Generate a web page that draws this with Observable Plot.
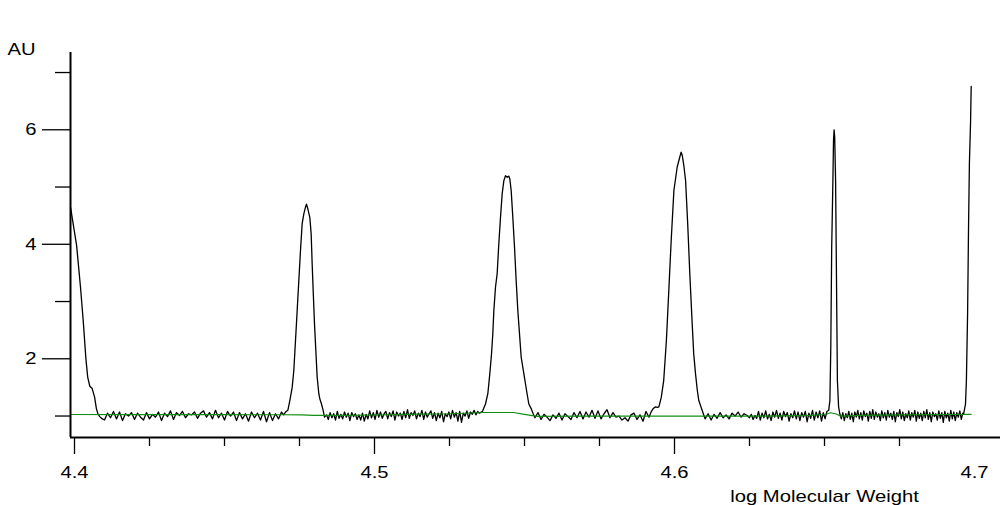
<!DOCTYPE html>
<html><head><meta charset="utf-8">
<script src="https://cdn.jsdelivr.net/npm/d3@7"></script>
<script src="https://cdn.jsdelivr.net/npm/@observablehq/plot@0.6"></script>
<style>body{margin:0;background:#fff}</style>
</head><body><div id="chart"></div>
<script>
// ---- tick labels / axis text ----
const xMajorTicks = [4.4, 4.5, 4.6];
const xLabelOnlyTicks = [4.7];
const xMinorTicks = [4.425, 4.45, 4.475, 4.525, 4.55, 4.575, 4.625, 4.65, 4.675];
const yMajorTicks = [2, 4, 6];
const yMinorTicks = [1, 3, 5, 7];
const xTitle = "log Molecular Weight";
const yTitle = "AU";

// ---- black trace: [log MW, AU] ----
const peak1 = [[4.39867,4.65],[4.4007,3.98],[4.4020,3.25],[4.4029,2.67],[4.4038,2.0],[4.4044,1.68],[4.4051,1.52],[4.4059,1.48],[4.4067,1.33],[4.4073,1.13],[4.4078,1.04],[4.4084,0.99]];
const noiseA = [[4.409,0.96],[4.410,0.93],[4.411,1.05],[4.412,0.97],[4.413,1.08],[4.414,0.95],[4.415,1.07],[4.416,0.92],[4.417,1.04],[4.418,1.00],[4.419,1.06],[4.420,0.94],[4.421,1.05],[4.422,0.98],[4.423,0.93],[4.424,1.06],[4.425,0.95],[4.426,1.03],[4.427,0.98],[4.428,1.07],[4.429,0.92],[4.430,1.05],[4.431,0.99],[4.432,1.09],[4.433,0.94],[4.434,1.06],[4.435,1.01],[4.436,1.08],[4.437,0.97],[4.438,1.04],[4.439,1.02],[4.440,1.07],[4.441,0.96],[4.442,1.05],[4.443,1.09],[4.444,0.98],[4.445,1.06],[4.446,0.95],[4.447,1.10],[4.448,0.97],[4.449,1.05],[4.450,0.93],[4.451,1.08],[4.452,1.00],[4.453,1.07],[4.454,0.92],[4.455,1.06],[4.456,0.95],[4.457,1.04],[4.458,0.91],[4.459,1.07],[4.460,0.97],[4.461,1.05],[4.462,0.93],[4.463,1.08],[4.464,0.90],[4.465,1.06],[4.466,0.92],[4.467,1.04],[4.468,0.95],[4.469,1.07],[4.4697,1.02]];
const peak2 = [[4.47033,1.07],[4.47111,1.10],[4.47178,1.27],[4.47256,1.50],[4.47311,1.80],[4.47367,2.32],[4.47422,2.84],[4.47478,3.37],[4.47533,3.89],[4.47589,4.36],[4.47644,4.53],[4.47700,4.65],[4.47733,4.70],[4.47778,4.62],[4.47844,4.47],[4.47889,4.18],[4.47922,3.66],[4.47956,3.19],[4.48000,2.61],[4.48044,2.15],[4.48089,1.68],[4.48144,1.39],[4.48178,1.30],[4.48233,1.21],[4.48289,1.10],[4.48333,0.98]];
const noiseB = [[4.4840,1.02],[4.4846,0.94],[4.4852,1.06],[4.4858,0.97],[4.4864,1.04],[4.4870,0.93],[4.4876,1.08],[4.4882,0.96],[4.4888,1.03],[4.4894,0.95],[4.4900,1.07],[4.4906,0.98],[4.4912,1.05],[4.4918,0.92],[4.4924,1.06],[4.4930,0.99],[4.4936,1.04],[4.4942,0.94],[4.4948,1.02],[4.4954,0.93],[4.4960,1.05],[4.4966,0.91],[4.4972,1.03],[4.4978,0.95],[4.4984,1.09],[4.4990,0.97],[4.4996,1.06],[4.5002,0.94],[4.5008,1.10],[4.5014,0.98],[4.5020,1.07],[4.5026,0.96],[4.5032,1.04],[4.5038,1.08],[4.5044,0.95],[4.5050,1.06],[4.5056,0.99],[4.5062,1.09],[4.5068,0.93],[4.5074,1.07],[4.5080,1.00],[4.5086,1.05],[4.5092,0.94],[4.5098,1.08],[4.5104,0.97],[4.5110,1.11],[4.5116,0.96],[4.5122,1.06],[4.5128,1.01],[4.5134,1.09],[4.5140,0.95],[4.5146,1.05],[4.5152,0.99],[4.5158,1.10],[4.5164,0.94],[4.5170,1.07],[4.5176,0.98],[4.5182,1.04],[4.5188,1.09],[4.5194,0.96],[4.5200,1.06],[4.5206,0.92],[4.5212,1.05],[4.5218,0.97],[4.5224,1.08],[4.5230,0.90],[4.5236,1.04],[4.5242,0.99],[4.5248,1.07],[4.5254,0.95],[4.5260,1.10],[4.5266,0.98],[4.5272,1.06],[4.5278,0.91],[4.5284,1.08],[4.5290,0.89],[4.5296,1.05],[4.5302,1.00],[4.5308,1.09],[4.5314,0.96],[4.5320,1.07],[4.5326,1.03],[4.5332,1.10],[4.5338,1.02],[4.5344,1.08],[4.5350,1.05],[4.5356,1.07]];
const peak3 = [[4.5359,1.07],[4.5370,1.21],[4.53778,1.39],[4.53844,1.74],[4.5390,2.08],[4.53944,2.44],[4.53978,2.84],[4.54033,3.25],[4.54089,3.49],[4.54144,4.01],[4.5420,4.47],[4.54256,4.88],[4.54311,5.11],[4.54367,5.20],[4.54422,5.17],[4.54478,5.19],[4.54511,5.14],[4.54556,4.94],[4.54611,4.47],[4.54667,3.95],[4.54722,3.37],[4.54778,2.84],[4.54833,2.44],[4.54889,2.03],[4.54978,1.74],[4.55067,1.45],[4.55144,1.21],[4.55222,1.13],[4.55289,1.04]];
const noiseC = [[4.5535,0.97],[4.5545,1.06],[4.5555,0.94],[4.5565,1.03],[4.5575,0.98],[4.5585,0.92],[4.5595,1.02],[4.5605,0.96],[4.5615,1.05],[4.5625,0.93],[4.5635,1.04],[4.5645,0.99],[4.5655,0.94],[4.5665,1.06],[4.5675,0.97],[4.5685,1.08],[4.5695,0.95],[4.5705,1.07],[4.5715,0.98],[4.5725,1.10],[4.5735,0.96],[4.5745,1.09],[4.5755,0.95],[4.5765,1.04],[4.5775,1.11],[4.5785,0.97],[4.5795,1.06],[4.5805,0.98],[4.5815,1.00],[4.5825,0.93],[4.5835,0.97],[4.5845,0.91],[4.5855,1.02],[4.5865,1.05],[4.5875,0.94],[4.5885,1.02],[4.5895,0.91],[4.5905,1.08]];
const peak4 = [[4.5915,0.98],[4.5922,1.07],[4.5929,1.13],[4.5937,1.16],[4.5943,1.15],[4.5948,1.16],[4.5956,1.33],[4.5964,1.62],[4.5973,2.32],[4.5981,3.19],[4.5989,4.07],[4.5998,4.94],[4.6009,5.35],[4.6016,5.49],[4.6022,5.61],[4.6026,5.55],[4.6031,5.38],[4.6037,5.11],[4.6044,4.36],[4.6051,3.49],[4.6059,2.61],[4.6064,2.09],[4.6070,1.74],[4.6076,1.45],[4.6081,1.27],[4.6087,1.18],[4.6096,1.04]];
const noiseE = [[4.6102,0.95],[4.6112,1.04],[4.6122,0.93],[4.6132,1.03],[4.6142,0.96],[4.6152,1.06],[4.6162,0.97],[4.6172,1.02],[4.6182,0.95],[4.6192,1.05],[4.6202,1.00],[4.6212,1.07],[4.6222,0.98],[4.6232,1.04],[4.6242,1.01],[4.6250,0.97],[4.6256,1.03],[4.6262,0.94],[4.6268,1.01],[4.6274,0.96],[4.6280,1.08],[4.6286,0.93],[4.6292,1.05],[4.6298,0.97],[4.6304,1.09],[4.6310,0.95],[4.6316,1.03],[4.6322,0.92],[4.6328,1.07],[4.6334,0.98],[4.6340,1.10],[4.6346,0.96],[4.6352,1.05],[4.6358,0.93],[4.6364,1.08],[4.6370,0.99],[4.6376,1.06],[4.6382,0.91],[4.6388,1.04],[4.6394,0.97],[4.6400,1.09],[4.6406,0.95],[4.6412,1.07],[4.6418,0.92],[4.6424,1.06],[4.6430,0.98],[4.6436,1.08],[4.6442,0.90],[4.6448,1.05],[4.6454,0.96],[4.6460,1.10],[4.6466,0.93],[4.6472,1.07],[4.6478,0.97],[4.6484,1.09],[4.6490,0.91],[4.6496,1.06],[4.6502,0.95],[4.6508,1.08]];
const peak5 = [[4.6514,1.10],[4.6518,1.27],[4.6521,2.20],[4.6524,3.95],[4.6528,5.11],[4.6530,5.81],[4.6532,6.00],[4.6534,5.87],[4.6537,5.11],[4.6539,3.95],[4.6541,2.79],[4.6543,1.62],[4.6547,1.16],[4.6551,1.04]];
const noiseF = [[4.6556,0.95],[4.6561,1.06],[4.6566,0.92],[4.6571,1.04],[4.6576,0.97],[4.6581,1.08],[4.6586,0.94],[4.6591,1.05],[4.6596,0.90],[4.6601,1.07],[4.6606,0.98],[4.6611,1.10],[4.6616,0.95],[4.6621,1.06],[4.6626,0.93],[4.6631,1.09],[4.6636,0.99],[4.6641,1.05],[4.6646,0.91],[4.6651,1.08],[4.6656,0.96],[4.6661,1.11],[4.6666,0.94],[4.6671,1.07],[4.6676,0.98],[4.6681,1.04],[4.6686,0.92],[4.6691,1.09],[4.6696,0.97],[4.6701,1.06],[4.6706,0.93],[4.6711,1.10],[4.6716,0.98],[4.6721,1.05],[4.6726,0.94],[4.6731,1.08],[4.6736,0.90],[4.6741,1.06],[4.6746,0.99],[4.6751,1.11],[4.6756,0.95],[4.6761,1.07],[4.6766,0.92],[4.6771,1.04],[4.6776,0.97],[4.6781,1.09],[4.6786,0.93],[4.6791,1.06],[4.6796,0.98],[4.6801,1.10],[4.6806,0.91],[4.6811,1.07],[4.6816,0.96],[4.6821,1.05],[4.6826,0.92],[4.6831,1.08],[4.6836,0.97],[4.6841,1.11],[4.6846,0.94],[4.6851,1.06],[4.6856,0.90],[4.6861,1.07],[4.6866,0.99],[4.6871,1.04],[4.6876,0.93],[4.6881,1.09],[4.6886,0.96],[4.6891,1.06],[4.6896,0.89],[4.6901,1.08],[4.6906,0.97],[4.6911,1.05],[4.6916,0.91],[4.6921,1.10],[4.6926,0.95],[4.6931,1.07],[4.6936,0.92],[4.6941,1.06],[4.6946,0.98],[4.6951,1.09],[4.6956,0.94],[4.6961,1.05]];
const peak6 = [[4.6964,1.04],[4.6970,1.21],[4.6973,1.62],[4.6977,2.79],[4.6980,4.24],[4.6983,5.41],[4.6987,6.16],[4.6989,6.76]];

// ---- green baseline trace ----
const baseline = [[4.39867,1.027],[4.42,1.025],[4.45,1.023],[4.4697,1.022],[4.476,1.02],[4.4797,1.01],[4.49,1.012],[4.50,1.018],[4.51,1.028],[4.5253,1.04],[4.5363,1.062],[4.5463,1.062],[4.5500,1.03],[4.5543,0.995],[4.57,0.997],[4.59,1.0],[4.61,1.0],[4.63,1.0],[4.645,1.01],[4.6503,1.027],[4.652,1.057],[4.6537,1.04],[4.6553,1.0],[4.662,1.01],[4.675,1.02],[4.69,1.027],[4.6989,1.03]];

const signal = [].concat(peak1, noiseA, peak2, noiseB, peak3, noiseC, peak4, noiseE, peak5, noiseF, peak6);

const xDomain = [4.398667, 4.708667];
const yDomain = [0.625, 7.35];
const font = "'Liberation Sans', Arial, Helvetica, sans-serif";

const chart = Plot.plot({
  width: 1002, height: 505,
  marginLeft: 70, marginRight: 2, marginTop: 52, marginBottom: 68,
  style: {fontFamily: font, fontSize: "17px", color: "#000", background: "#fff"},
  x: {domain: xDomain},
  y: {domain: yDomain},
  marks: [
    Plot.line(signal, {x: d => d[0], y: d => d[1], stroke: "#000", strokeWidth: 1.3}),
    Plot.line(baseline, {x: d => d[0], y: d => d[1], stroke: "#138c13", strokeWidth: 1.2}),
    Plot.ruleY([yDomain[0]], {stroke: "#000", strokeWidth: 2}),
    Plot.ruleX([xDomain[0]], {stroke: "#000", strokeWidth: 2}),
    Plot.axisX({ticks: xMajorTicks, tickSize: 17, tickPadding: 11, tickFormat: d3.format(".1f"), stroke: "#000", strokeWidth: 1.3, label: null, fontSize: 17}),
    Plot.axisX({ticks: xLabelOnlyTicks, tickSize: 0, tickPadding: 28, tickFormat: d3.format(".1f"), label: null, fontSize: 17}),
    Plot.axisX({ticks: xMinorTicks, tickSize: 9, tickFormat: () => "", stroke: "#000", strokeWidth: 1.3, label: null}),
    Plot.axisY({ticks: yMajorTicks, tickSize: 28, tickPadding: 6, tickFormat: d3.format("d"), stroke: "#000", strokeWidth: 1.3, label: null, fontSize: 17}),
    Plot.axisY({ticks: yMinorTicks, tickSize: 15, tickFormat: () => "", stroke: "#000", strokeWidth: 1.3, label: null}),
    Plot.text([yTitle], {frameAnchor: "top-left", textAnchor: "middle", lineAnchor: "middle", dx: -49, dy: -3, fontSize: 17, fill: "#000"}),
    Plot.text([xTitle], {frameAnchor: "bottom", textAnchor: "middle", lineAnchor: "middle", dx: 289, dy: 59, fontSize: 17, fill: "#000"})
  ]
});
document.getElementById("chart").append(chart);
// horizontal stretch of the lettering, as in the reference
const svg = chart.tagName.toLowerCase() === "svg" ? chart : chart.querySelector("svg");
for (const t of svg.querySelectorAll("text")) {
  const L = t.getComputedTextLength();
  if (L > 0) { t.setAttribute("textLength", (L * 1.19).toFixed(2)); t.setAttribute("lengthAdjust", "spacingAndGlyphs"); }
}
</script>
</body></html>
